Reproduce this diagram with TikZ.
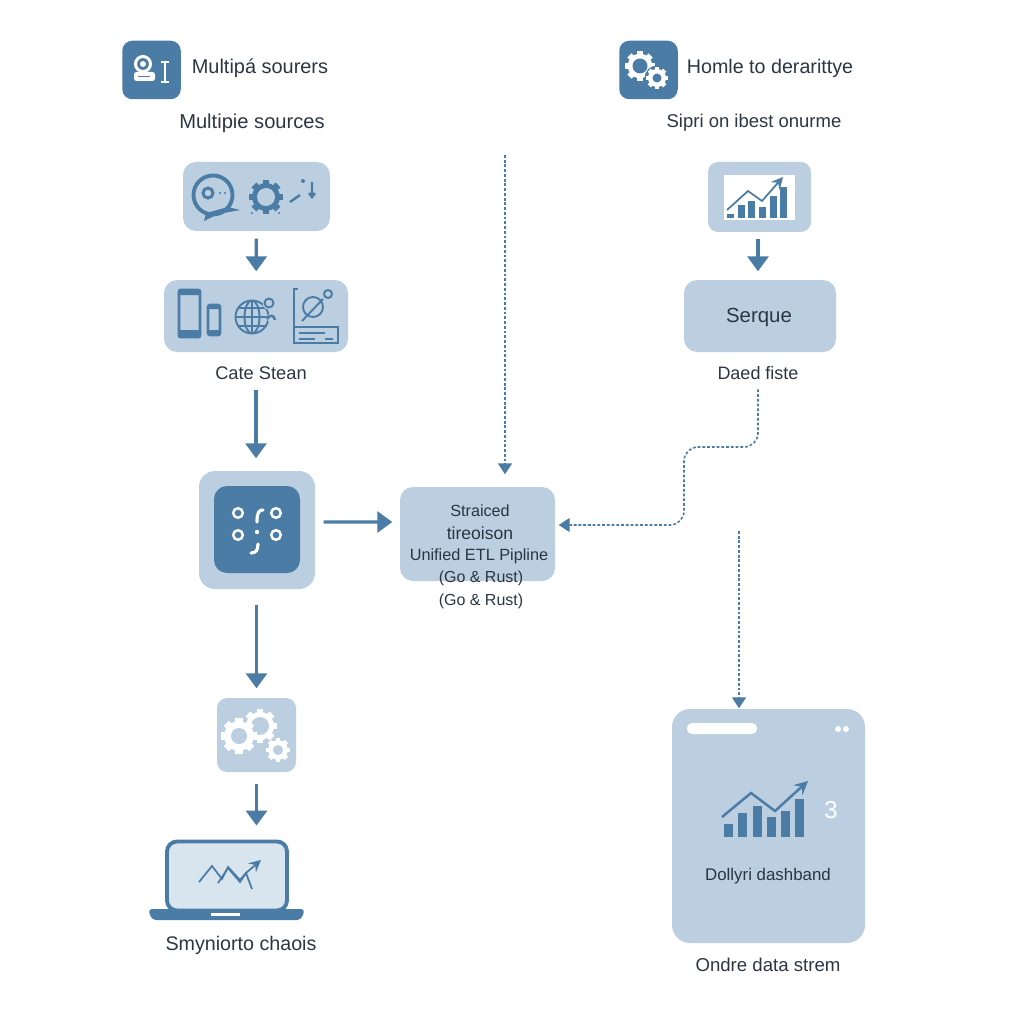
\documentclass[tikz,border=0pt]{standalone}
\usepackage{fontspec}
\setmainfont{Liberation Sans}
\usetikzlibrary{arrows.meta}
\definecolor{pale}{HTML}{BBCFE0}
\definecolor{deep}{HTML}{4A7CA6}
\definecolor{ink}{HTML}{2B3642}
\definecolor{glass}{HTML}{D8E4EE}
\tikzset{box/.style = {fill=pale, rounded corners=1.3mm, inner sep=0pt},
           head/.style = {fill=deep, rounded corners=1mm, inner sep=0pt, minimum size=5.85mm},
           lbl/.style = {text=ink, inner sep=0pt, font=\fontsize{#1}{7}\selectfont},
           flow/.style = {deep, line width=.9pt, -{Triangle[length=1.5mm, width=2.1mm]}},
           dots/.style = {deep, line width=.45pt, dash pattern=on .8pt off .55pt, -{Triangle[length=1.1mm, width=1.4mm]}},
           ic/.style = {deep, line width=.55pt},
           icw/.style = {white, line width=.85pt}}
% cx, cy, outer radius, hole radius, tooth colour, hole colour
\newcommand{\cog}[6]{
  \foreach \a in {0,45,...,315}
    \fill[#5, rotate around={\a:(#1,#2)}] (#1-#3*.2,#2) rectangle (#1+#3*.2,#2-#3);
  \fill[#5] (#1,#2) circle[radius=#3*.82];
  \fill[#6] (#1,#2) circle[radius=#4];
}
\begin{document}
\begin{tikzpicture}[x=.1mm, y=-.1mm, >=stealth]
    \useasboundingbox (0,0) rectangle (1024,1024);
    % boxes
    \node[head] (cam) at (151.5,70) {};
    \node[head] (gears) at (648.5,70) {};
    \node[box, minimum width=14.7mm, minimum height=6.9mm] (src) at (256.5,196.5) {};
    \node[box, minimum width=18.4mm, minimum height=7.2mm] (dev) at (256,316) {};
    \node[box, minimum width=11.6mm, minimum height=11.8mm, rounded corners=1.6mm] (hub) at (257,530) {};
    \node[fill=deep, rounded corners=1.3mm, minimum width=8.6mm, minimum height=8.7mm, inner sep=0pt] (core) at (257,529.5) {};
    \node[box, minimum width=15.5mm, minimum height=9.4mm] (pipe) at (477.5,534) {};
    \node[box, minimum width=7.9mm, minimum height=7.4mm, rounded corners=1mm] (work) at (256.5,735) {};
    \node[draw=deep, line width=1.1pt, fill=glass, rounded corners=1mm, minimum width=12mm, minimum height=6.9mm, inner sep=0pt] (laptop) at (227,876) {};
    \node[box, minimum width=10.3mm, minimum height=7mm, rounded corners=1mm] (chart) at (759.5,197) {};
    \node[box, minimum width=15.2mm, minimum height=7.2mm] (serque) at (760,316) {};
    \node[box, minimum width=19.3mm, minimum height=23.4mm, rounded corners=1.8mm] (dash) at (768.5,826) {};
    % labels
    \node[lbl=5.67] (headl) at (260,68) {Multipá sourers};
    \node[lbl=5.73] (multi) at (252,123) {Multipie sources};
    \node[lbl=5.2] (cate) at (261,373) {Cate Stean};
    \node[lbl=5.6] (smy) at (241,945) {Smyniorto chaois};
    \node[lbl=5.6] (headr) at (770,68) {Homle to derarittye};
    \node[lbl=5.26] (sipri) at (754,123) {Sipri on ibest onurme};
    \node[lbl=5.8] (serquel) at (759,317) {Serque};
    \node[lbl=5.12] (fiste) at (758,373) {Daed fiste};
    \node[lbl=4.8] (dolly) at (768,876) {Dollyri dashband};
    \node[lbl=5.3] (ondre) at (768,965) {Ondre data strem};
    \node[lbl=7, text=white] (three) at (831,810) {3};
    \node[lbl=4.6] (t1) at (480,511) {Straiced};
    \node[lbl=5] (t2) at (480,533) {tireoison};
    \node[lbl=4.63] (t3) at (479,556) {Unified ETL Pipline};
    \node[lbl=4.55] (t4) at (481,578) {(Go \& Rust)};
    \node[lbl=4.55] (t5) at (481,601) {(Go \& Rust)};
    % connectors
    \coordinate (topdot) at (505,155);
    \coordinate (lowdot) at (739,531);
    \draw[flow, shorten <=.7mm, shorten >=.8mm] (src) -- (dev);
    \draw[flow, shorten <=1mm, shorten >=1.2mm] (cate.south-|dev) -- (hub.north-|dev);
    \draw[flow] ([yshift=.8mm, xshift=.8mm]hub.east) -- ([yshift=1.2mm, xshift=-.7mm]pipe.west);
    \draw[flow, shorten <=1.5mm, shorten >=.9mm] (hub.south-|work) -- (work);
    \draw[flow, shorten <=1.1mm, shorten >=1.4mm] (work) -- (work|-laptop.north);
    \draw[flow, shorten <=.6mm, shorten >=.8mm] (chart.south-|fiste) -- (serque.north-|fiste);
    \draw[dots, shorten >=1.2mm] (topdot) -- (topdot|-pipe.north);
    \draw[dots, shorten <=.9mm, shorten >=.3mm, rounded corners=1.4mm] (fiste.south) -- (758,447) -- (684,447) -- (684,525) -- ([yshift=.9mm]pipe.east);
    \draw[dots] (lowdot) -- (lowdot|-dash.north);
    % camera head icon
    \draw[icw] (143,64) circle[radius=7.5];
    \fill[white] (143,64) circle[radius=3];
    \fill[white, rounded corners=.25mm] (134,72) rectangle (155,81);
    \fill[deep] (138,76) rectangle (150,77.5);
    \draw[icw] (165,62) -- (165,82) (161,62) -- (169,62) (161,82) -- (169,82);
    % gears head icon
    \cog{640}{66}{15}{7.5}{white}{deep}
    \fill[deep] (657,78) circle[radius=12.5];
    \cog{657}{78}{11}{4.5}{white}{deep}
    % source icons
    \draw[deep, line width=1.1pt] (213,195) circle[radius=19.5];
    \fill[deep] (206,213) -- (204,221) -- (218,214) -- (240,210) -- (228,207) -- cycle;
    \draw[deep, line width=.85pt] (208,193) circle[radius=5];
    \fill[deep] (220,193) circle[radius=1.2] (225,193) circle[radius=1.2];
    \cog{266}{197}{17}{9}{deep}{pale}
    \fill[deep] (252,213) circle[radius=1.2] (279,213) circle[radius=1.2];
    \draw[ic, line width=.7pt] (290,202) -- (300,195) (312,182) -- (312,197) (309,193) -- (312,197) -- (315,193);
    \fill[deep] (303,181) circle[radius=2];
    % device icons
    \draw[deep, line width=.85pt, rounded corners=.2mm] (179,290) rectangle (200,337);
    \fill[deep] (179,330) rectangle (200,337) (179,290) rectangle (200,295);
    \draw[deep, line width=.75pt, rounded corners=.2mm] (208,305) rectangle (220,335);
    \fill[deep] (208,330) rectangle (220,335) (208,305) rectangle (220,309);
    \draw[ic] (252,317) circle[radius=16.5] (252,317) ellipse[x radius=7.5, y radius=16.5]
      (235.5,317) -- (268.5,317) (238,308) -- (266,308) (238,326) -- (266,326) (252,300.5) -- (252,333.5);
    \fill[pale] (269,303) circle[radius=6.5] (272,318) circle[radius=5];
    \draw[ic] (269,303) circle[radius=4.5];
    \draw[ic, line width=.7pt] (267,319) .. controls (270,314) and (274,315) .. (275,320);
    \draw[ic] (298,289) -- (294,289) -- (294,343) -- (338,343) -- (338,327) -- (294,327);
    \draw[ic] (313,307) circle[radius=10] (302,321) -- (323,299);
    \draw[ic, fill=pale] (328,294) circle[radius=4];
    \draw[ic] (299,333) -- (325,333) (299,339) -- (315,339) (325,339) -- (333,339);
    % hub icon
    \foreach \p in {(238,513), (276,513), (238,535), (276,535)}
      \draw[white, line width=.7pt] \p circle[radius=4.8];
    \draw[white, line width=.9pt, line cap=round] (257,522) .. controls (257,512) and (259,510) .. (263,510);
    \draw[white, line width=.9pt, line cap=round] (258,544) .. controls (258,550) and (256,553) .. (251,553);
    \fill[white] (257,532) circle[radius=2.2];
    % work icon
    \cog{260}{726}{17}{9}{white}{pale}
    \cog{239}{736}{18}{8}{white}{pale}
    \cog{278}{750}{12}{5}{white}{pale}
    % laptop
    \fill[deep, rounded corners=.4mm] (148,909) -- (305,909) -- (301,920) -- (152,920) -- cycle;
    \fill[white] (211,913) rectangle (240,916);
    \draw[deep, line width=.5pt] (199,882) -- (212,866) -- (222,879) -- (228,867) -- (240,880) -- (246,873) -- (252,889);
    \draw[deep, line width=.5pt, ->] (218,883) -- (228,868) -- (240,882) -- (246,873) -- (261,860);
    % small chart
    \fill[white] (724,175) rectangle (795,220);
    \foreach \x/\t in {727/214, 738/205, 748/201, 759/207, 770/196, 780/187}
      \fill[deep] (\x,\t) rectangle (\x+7,218);
    \draw[deep, line width=.5pt, ->] (727,210) -- (748,191) -- (762,201) -- (783,177);
    % dashboard
    \fill[white, rounded corners=.5mm] (687,723) rectangle (757,734);
    \fill[white] (838,729) circle[radius=3] (846,729) circle[radius=3];
    \foreach \x/\t in {724/824, 738/813, 753/806, 767/817, 781/811, 795/799}
      \fill[deep] (\x,\t) rectangle (\x+8.5,837);
    \draw[deep, line width=.7pt, ->] (722,817) -- (751,793) -- (775,811) -- (808,781);
\end{tikzpicture}
\end{document}
